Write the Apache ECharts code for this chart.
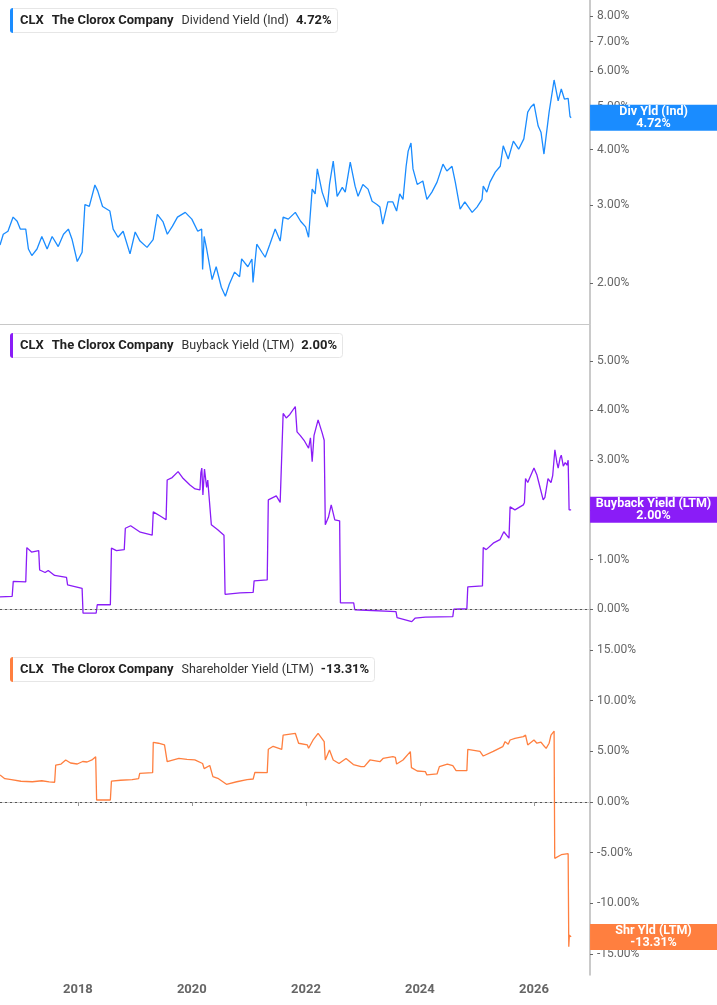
<!DOCTYPE html>
<html><head><meta charset="utf-8">
<script src="https://cdn.jsdelivr.net/npm/echarts@6/dist/echarts.min.js"></script>
<style>html,body{margin:0;padding:0;background:#fff}#c{width:717px;height:1005px}</style>
</head><body><div id="c"></div>
<script>
// ---------- DATA ----------
const ticker = 'CLX';
const company = 'The Clorox Company';
const seriesNames = ['Dividend Yield (Ind)', 'Buyback Yield (LTM)', 'Shareholder Yield (LTM)'];
const tagNames = ['Div Yld (Ind)', 'Buyback Yield (LTM)', 'Shr Yld (LTM)'];
const divTicks = [2, 3, 4, 5, 6, 7, 8];
const bbTicks = [0, 1, 2, 3, 4, 5];
const shyTicks = [-15, -10, -5, 0, 5, 10, 15];

const divDates = ['2016-08-20','2016-09-10','2016-10-10','2016-11-12','2016-12-08','2016-12-28','2017-02-01','2017-02-18','2017-03-12','2017-04-14','2017-05-15','2017-06-18','2017-07-20','2017-08-28','2017-10-01','2017-11-01','2017-11-25','2017-12-28','2018-01-28','2018-02-15','2018-03-15','2018-04-20','2018-05-08','2018-06-08','2018-07-25','2018-08-15','2018-09-15','2018-10-18','2018-12-01','2019-01-03','2019-02-03','2019-03-20','2019-04-28','2019-05-25','2019-07-01','2019-07-28','2019-08-30','2019-10-01','2019-11-20','2020-01-01','2020-02-08','2020-03-04','2020-03-10','2020-03-20','2020-04-05','2020-05-10','2020-06-05','2020-07-08','2020-08-03','2020-08-28','2020-10-01','2020-11-02','2020-11-15','2020-12-25','2021-01-20','2021-01-27','2021-02-20','2021-03-25','2021-04-15','2021-05-15','2021-06-18','2021-07-20','2021-08-08','2021-09-10','2021-10-25','2021-11-28','2021-12-30','2022-01-18','2022-02-10','2022-03-01','2022-03-15','2022-04-15','2022-05-18','2022-06-01','2022-06-25','2022-07-20','2022-08-22','2022-09-10','2022-10-12','2022-11-12','2022-12-01','2023-01-01','2023-02-03','2023-03-01','2023-04-01','2023-04-20','2023-05-08','2023-06-10','2023-07-12','2023-08-05','2023-08-25','2023-09-15','2023-10-05','2023-10-18','2023-11-05','2023-11-18','2023-12-15','2024-01-20','2024-02-15','2024-03-18','2024-04-20','2024-05-28','2024-06-22','2024-07-25','2024-08-15','2024-09-15','2024-10-15','2024-12-01','2025-01-01','2025-02-02','2025-02-10','2025-03-05','2025-03-25','2025-04-28','2025-05-30','2025-06-18','2025-07-20','2025-08-22','2025-09-25','2025-10-28','2025-11-22','2025-12-12','2026-01-01','2026-01-28','2026-02-15','2026-03-06','2026-03-20','2026-04-08','2026-05-10','2026-06-05','2026-06-25','2026-07-15','2026-08-08','2026-08-20','2026-08-27'];
const divValues = [2.44,2.58,2.62,2.82,2.76,2.65,2.65,2.39,2.31,2.39,2.55,2.39,2.55,2.42,2.58,2.65,2.51,2.24,2.35,3.01,2.98,3.33,3.23,2.98,2.91,2.65,2.54,2.62,2.33,2.61,2.49,2.41,2.51,2.86,2.75,2.58,2.69,2.82,2.89,2.79,2.62,2.65,2.15,2.55,2.39,2.04,2.18,1.96,1.87,1.99,2.12,2.07,2.27,2.18,2.27,2.01,2.45,2.35,2.29,2.45,2.65,2.49,2.82,2.79,2.89,2.76,2.68,2.54,3.26,3.18,3.62,3.21,2.97,3.34,3.77,3.14,3.29,3.21,3.75,3.31,3.14,3.34,3.26,3.06,3.01,2.97,2.72,3.05,3.05,2.91,3.18,3.09,3.67,3.97,4.14,3.62,3.34,3.40,3.09,3.21,3.38,3.71,3.58,3.67,3.38,2.94,3.05,2.89,2.97,3.09,3.31,3.21,3.38,3.56,3.67,4.08,3.81,4.18,4.01,4.23,4.86,4.99,5.07,4.52,4.38,3.91,4.29,4.86,5.74,5.15,5.48,5.20,5.22,4.75,4.72];

const bbDates = ['2016-08-20','2016-11-06','2016-11-13','2017-02-01','2017-02-08','2017-03-10','2017-04-25','2017-05-01','2017-06-05','2017-06-25','2017-08-05','2017-10-20','2017-10-27','2018-01-28','2018-02-03','2018-04-28','2018-05-05','2018-07-28','2018-08-04','2018-09-05','2018-10-25','2018-11-01','2018-12-05','2019-02-05','2019-04-22','2019-04-29','2019-06-10','2019-07-20','2019-07-27','2019-08-28','2019-10-05','2019-11-07','2019-12-20','2020-01-22','2020-02-22','2020-02-28','2020-03-05','2020-03-12','2020-03-22','2020-04-05','2020-04-12','2020-05-05','2020-06-15','2020-07-25','2020-08-01','2020-11-05','2021-01-28','2021-02-03','2021-04-28','2021-05-05','2021-06-25','2021-07-20','2021-08-01','2021-08-08','2021-08-28','2021-09-20','2021-10-25','2021-11-05','2021-11-25','2021-12-20','2022-01-18','2022-01-30','2022-02-10','2022-02-22','2022-03-20','2022-04-15','2022-04-28','2022-05-05','2022-05-25','2022-06-12','2022-07-05','2022-08-05','2022-08-10','2022-11-03','2022-11-10','2023-08-01','2023-08-08','2023-11-10','2023-12-01','2024-02-05','2024-07-30','2024-08-05','2024-10-28','2024-11-03','2025-02-05','2025-02-10','2025-03-01','2025-04-15','2025-05-28','2025-06-22','2025-07-25','2025-08-01','2025-09-01','2025-10-25','2025-11-01','2025-11-08','2025-11-22','2026-01-01','2026-01-20','2026-02-01','2026-03-01','2026-03-12','2026-04-01','2026-04-20','2026-05-01','2026-05-15','2026-05-28','2026-06-05','2026-06-18','2026-06-25','2026-07-08','2026-07-20','2026-08-01','2026-08-08','2026-08-14','2026-08-27'];
const bbValues = [0.25,0.26,0.56,0.55,1.24,1.15,1.18,0.79,0.74,0.78,0.68,0.64,0.49,0.42,-0.08,-0.08,0.09,0.09,1.23,1.18,1.20,1.63,1.68,1.55,1.49,1.96,1.88,1.80,2.60,2.65,2.77,2.63,2.50,2.42,2.40,2.75,2.84,2.30,2.82,2.45,2.60,1.70,1.60,1.49,0.30,0.33,0.34,0.57,0.59,2.20,2.28,2.15,2.18,3.94,3.85,3.92,4.08,3.57,3.50,3.40,3.24,3.45,2.97,3.50,3.81,3.55,3.40,1.70,1.85,2.10,1.80,1.78,0.13,0.13,-0.01,-0.05,-0.17,-0.25,-0.18,-0.16,-0.15,0.00,0.01,0.45,0.47,1.24,1.20,1.33,1.40,1.56,1.43,2.06,2.00,2.10,2.15,2.63,2.55,2.84,2.70,2.55,2.20,2.25,2.63,2.55,2.69,3.21,2.95,2.84,3.05,3.10,2.88,2.95,2.90,3.00,2.00,2.00];

const shyDates = ['2016-08-20','2016-09-20','2016-11-01','2017-01-01','2017-03-15','2017-05-15','2017-07-01','2017-08-05','2017-08-12','2017-09-15','2017-10-15','2017-11-15','2017-12-28','2018-02-01','2018-03-01','2018-04-01','2018-04-25','2018-05-01','2018-07-28','2018-08-04','2018-10-01','2018-12-15','2019-01-25','2019-02-01','2019-04-25','2019-04-29','2019-06-01','2019-07-10','2019-07-27','2019-10-10','2019-12-01','2020-01-20','2020-03-10','2020-03-20','2020-04-25','2020-05-15','2020-06-20','2020-08-10','2020-10-15','2020-12-20','2021-01-28','2021-02-08','2021-04-28','2021-05-05','2021-06-05','2021-07-30','2021-08-08','2021-10-25','2021-11-05','2021-11-15','2022-01-10','2022-01-18','2022-02-15','2022-03-20','2022-04-28','2022-05-05','2022-06-01','2022-06-25','2022-08-01','2022-09-15','2022-11-01','2022-12-20','2023-01-10','2023-02-15','2023-04-20','2023-05-10','2023-07-12','2023-07-28','2023-08-05','2023-09-15','2023-11-01','2023-11-08','2023-12-15','2024-02-05','2024-02-15','2024-04-20','2024-05-05','2024-06-25','2024-07-30','2024-08-20','2024-10-28','2024-11-03','2025-01-20','2025-02-10','2025-04-15','2025-06-15','2025-06-30','2025-07-20','2025-08-01','2025-09-01','2025-10-25','2025-11-08','2025-11-22','2026-01-01','2026-01-20','2026-02-15','2026-03-01','2026-03-20','2026-04-08','2026-04-20','2026-05-01','2026-05-10','2026-05-14','2026-06-25','2026-08-08','2026-08-12','2026-08-16','2026-08-27'];
const shyValues = [2.67,2.30,2.20,2.05,2.00,2.10,1.98,1.95,3.65,3.75,4.15,3.85,3.75,4.00,3.95,4.15,4.47,0.20,0.20,2.07,2.15,2.20,2.30,2.83,2.90,5.89,5.80,5.63,3.98,4.30,4.20,4.15,3.80,3.30,3.60,2.50,2.30,1.75,2.00,2.20,2.27,2.93,2.90,5.20,5.50,5.20,6.61,6.78,6.90,5.80,5.63,5.30,6.10,6.78,5.96,4.15,5.13,4.15,3.80,4.30,3.70,3.50,3.49,4.15,3.98,4.30,4.47,4.40,3.75,4.15,4.97,3.39,3.06,3.00,2.67,2.77,3.49,3.75,3.60,3.10,3.10,5.20,5.00,4.54,5.00,5.46,5.96,5.70,6.12,6.29,6.45,6.60,5.63,6.12,5.80,5.90,5.63,5.30,5.80,6.61,6.45,7.00,-5.56,-5.20,-5.10,-14.28,-13.13,-13.31];

// ---------- CHART ----------
const X_MIN = '2016-08-20';
const X_MAX = '2026-12-26';
const FONT = 'Roboto';
const colors = ['#1a8cff', '#8a1cf7', '#ff7f3f'];
const grids = [
  {left: 0, right: 127, top: 0, height: 324},
  {left: 0, right: 127, top: 325, height: 323},
  {left: 0, right: 127, top: 649, height: 326}
];
const yRanges = [[1.62, 8.69], [-0.78, 5.72], [-17.07, 15.1]];
const yTicks = [divTicks, bbTicks, shyTicks];
const dates = [divDates, bbDates, shyDates];
const values = [divValues, bbValues, shyValues];

const pct = v => Number(v).toFixed(2) + '%';
const last = arr => arr[arr.length - 1];

const titles = [0, 1, 2].map(i => ({
  left: 10,
  top: grids[i].top + 8,
  padding: [0, 6, 0, 0],
  borderColor: '#e6e6e6',
  borderWidth: 1,
  borderRadius: 3,
  backgroundColor: '#fff',
  text: '{bar|}{tk|' + ticker + '}{nm|' + company + '}{ds|' + seriesNames[i] + '}{vl|' + pct(last(values[i])) + '}',
  textStyle: {
    fontFamily: FONT,
    rich: {
      bar: {width: 3, height: 25, backgroundColor: colors[i], borderRadius: [3, 0, 0, 3]},
      tk: {fontFamily: FONT, fontSize: 13, fontWeight: 'bold', color: '#222', padding: [0, 0, 0, 7]},
      nm: {fontFamily: FONT, fontSize: 13, fontWeight: 'bold', color: '#222', padding: [0, 0, 0, 8]},
      ds: {fontFamily: FONT, fontSize: 12.5, fontWeight: 'normal', color: '#333', padding: [0, 0, 0, 8]},
      vl: {fontFamily: FONT, fontSize: 13, fontWeight: 'bold', color: '#222', padding: [0, 0, 0, 7]}
    }
  }
}));

const xAxes = [0, 1, 2].map(i => ({
  type: 'time', gridIndex: i, min: X_MIN, max: X_MAX, splitNumber: 5,
  axisLine: {show: true, lineStyle: {color: '#c8c8c8', width: 1}},
  axisTick: {show: i === 2, length: 4, lineStyle: {color: '#999'}},
  axisLabel: {show: i === 2, margin: 8, formatter: '{yyyy}',
    fontFamily: FONT, fontSize: 13, fontWeight: 'bold', color: '#666'},
  splitLine: {show: false}
}));

const yAxes = [0, 1, 2].map(i => ({
  type: i === 0 ? 'log' : 'value', gridIndex: i, position: 'right',
  min: yRanges[i][0], max: yRanges[i][1],
  axisLine: {show: true, onZero: false, lineStyle: {color: '#b8b8b8', width: 1.5}},
  axisTick: {show: true, length: 3, customValues: yTicks[i], lineStyle: {color: '#666'}},
  axisLabel: {show: true, customValues: yTicks[i], margin: 7, formatter: v => pct(v),
    fontFamily: FONT, fontSize: 12, color: '#666'},
  splitLine: {show: false}
}));

const series = [0, 1, 2].map(i => ({
  type: 'line', xAxisIndex: i, yAxisIndex: i, name: seriesNames[i],
  data: dates[i].map((d, k) => [d, values[i][k]]),
  showSymbol: false, symbol: 'none', animation: false,
  lineStyle: {color: colors[i], width: 1.3},
  itemStyle: {color: colors[i]},
  markLine: i === 0 ? undefined : {
    silent: true, symbol: 'none', animation: false,
    label: {show: false},
    lineStyle: {color: '#555', type: [2, 3], width: 1},
    data: [{yAxis: 0}]
  },
  markPoint: {
    silent: true, animation: false, symbol: 'rect', symbolSize: 0.1,
    itemStyle: {color: 'rgba(0,0,0,0)'},
    data: [{coord: [X_MAX, last(values[i])]}],
    label: {
      show: true, position: 'right', distance: 0,
      backgroundColor: colors[i], padding: [1, 0, 1, 0],
      formatter: '{t|' + tagNames[i] + '}\n{t|' + pct(last(values[i])) + '}',
      rich: {t: {width: 127, align: 'center', color: '#fff', fontWeight: 'bold', fontSize: 12.5, lineHeight: 12, fontFamily: FONT}}
    }
  }
}));

const chart = echarts.init(document.getElementById('c'), null, {renderer: 'canvas'});
chart.setOption({
  backgroundColor: '#fff',
  animation: false,
  textStyle: {fontFamily: FONT},
  title: titles,
  grid: grids,
  xAxis: xAxes,
  yAxis: yAxes,
  series: series
});
</script>
</body></html>
